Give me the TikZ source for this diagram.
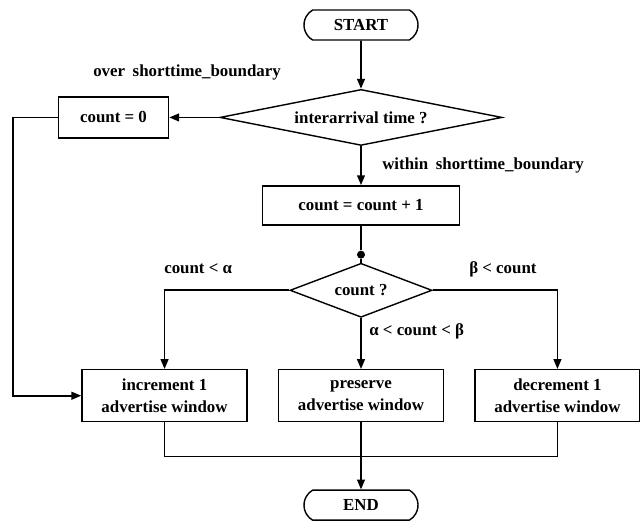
\documentclass[tikz,border=0pt]{standalone}
\usepackage{fontspec}
\setmainfont{Liberation Serif}
\usetikzlibrary{positioning, arrows.meta, shapes.geometric, shapes.misc}
\tikzset{
  flowbox/.style = {rectangle, draw, line width=1pt, align=center,
                    inner sep=0pt, minimum width=4.125cm, minimum height=1.3cm},
  flowterm/.style = {rounded rectangle, rounded rectangle arc length=120,
                     draw, line width=1pt, inner sep=0pt,
                     minimum width=2.85cm, minimum height=0.75cm},
  flowtest/.style = {diamond, draw, line width=1pt, inner sep=0pt},
  flowlabel/.style = {anchor=west, inner sep=0pt},
  flowjunc/.style = {circle, fill, inner sep=0pt, minimum size=0.2cm},
  flowarrow/.style = {-{Triangle[length=7pt,width=5.5pt]}, line width=1.3pt},
  flowline/.style = {line width=1pt}
}

\begin{document}
\begin{tikzpicture}[x=0.025cm, y=-0.025cm, font=\fontsize{12}{15.5}\selectfont\bfseries]
\useasboundingbox (0,0) rectangle (640,521);

\node[flowterm] (start) at (361,25) {START};
\node[flowtest, below=1.2cm of start, minimum width=7.05cm, minimum height=1.4cm,
      aspect=5] (iat) {interarrival time ?};
\node[flowbox, left=1.25cm of iat, minimum width=2.75cm, minimum height=1.025cm] (reset) {count = 0};
\node[flowbox, below=0.975cm of iat, minimum width=4.925cm, minimum height=0.975cm] (incr) {count = count + 1};
\node[flowjunc, below=0.62cm of incr] (junc) {};
\node[flowtest, below=0.925cm of incr, minimum width=3.55cm, minimum height=1.35cm,
      aspect=2.6] (cnt) {count ?};

\node[flowbox, below=1.275cm of cnt] (keep) {preserve\\advertise window};
\node[flowbox, left=0.75cm of keep] (grow) {increment 1\\advertise window};
\node[flowbox, right=0.75cm of keep] (shrink) {decrement 1\\advertise window};
\coordinate[below=0.85cm of keep.south] (join);
\node[flowterm, below=1.675cm of keep] (stop) {END};
\coordinate (back) at (13,0);

% branch labels
\node[flowlabel] (overlbl) at (93,72) {over\hspace{0.45em}shorttime\_boundary};
\node[flowlabel] (withinlbl) at (382,165) {within\hspace{0.45em}shorttime\_boundary};
\node[flowlabel] (ltlbl) at (164,269) {count < α};
\node[flowlabel] (gtlbl) at (469,269) {β < count};
\node[flowlabel] (midlbl) at (369,331) {α < count < β};

\draw[flowarrow] (start) -- (iat);
\draw[flowarrow] (iat.west) -- (reset.east);
\draw[flowarrow] (iat) -- (incr);
\draw[flowline] (incr) -- (junc) -- (cnt.north);
\draw[flowarrow] (reset.west) -- (reset.west -| back) |- (grow.west);
\draw[flowarrow] (cnt.west) -| (grow.north);
\draw[flowarrow] (cnt.east) -| (shrink.north);
\draw[flowarrow] (cnt.south) -- (keep.north);
\draw[flowline] (grow.south) |- (join) -| (shrink.south);
\draw[flowarrow] (keep.south) -- (stop.north);
\end{tikzpicture}
\end{document}
